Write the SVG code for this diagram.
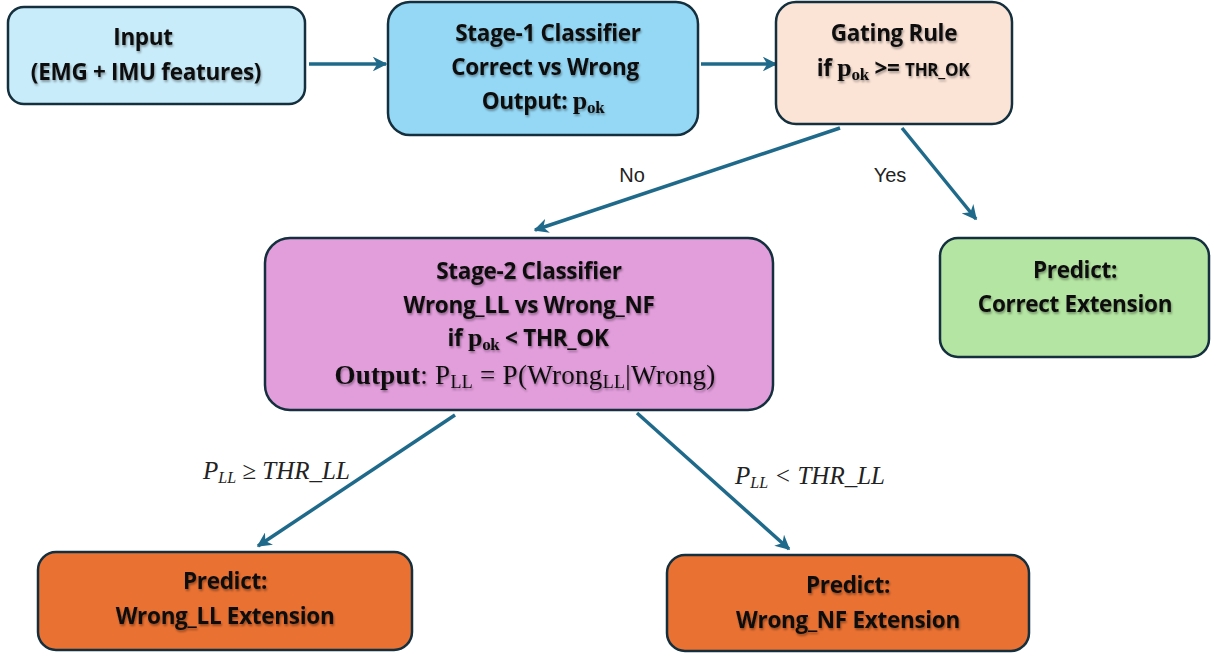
<svg xmlns="http://www.w3.org/2000/svg" width="1211" height="654" viewBox="0 0 1211 654">
<defs>
<marker id="ah" viewBox="0 0 10 10" refX="9" refY="5" markerWidth="4.2" markerHeight="4.2" orient="auto" markerUnits="strokeWidth">
<path d="M0,0 L10,5 L0,10 L3,5 z" fill="#1f6a8a"/>
</marker>
<filter id="sh" x="-10%" y="-30%" width="120%" height="160%">
<feGaussianBlur in="SourceAlpha" stdDeviation="1.2"/>
<feOffset dx="1" dy="1.5" result="b"/>
<feComponentTransfer><feFuncA type="linear" slope="0.35"/></feComponentTransfer>
<feMerge><feMergeNode/><feMergeNode in="SourceGraphic"/></feMerge>
</filter>
</defs>
<style>
.box{stroke:#142f3d;stroke-width:2.5}
.t{font-family:"Open Sans","Liberation Sans",sans-serif;font-weight:bold;font-size:22.5px;fill:#111;text-anchor:middle;letter-spacing:-0.3px}
.m{font-family:"Liberation Serif","DejaVu Serif",serif;font-weight:bold}
.mr{font-family:"Liberation Serif","DejaVu Serif",serif;font-weight:normal;font-size:27px;letter-spacing:0.3px}
.c{stroke:#1f6a8a;stroke-width:3.5;fill:none;marker-end:url(#ah)}
.lbl{font-family:"Liberation Sans",sans-serif;font-size:20px;fill:#222;text-anchor:middle}
.il{font-family:"Liberation Serif","DejaVu Serif",serif;font-style:italic;font-size:25px;fill:#222}
</style>
<g id="connectors">
<line class="c" x1="309" y1="64" x2="386" y2="64"/>
<line class="c" x1="701" y1="64" x2="776" y2="64"/>
<line class="c" x1="840" y1="128" x2="535" y2="230"/>
<line class="c" x1="902" y1="128" x2="976" y2="219"/>
<line class="c" x1="455" y1="415" x2="258" y2="546"/>
<line class="c" x1="637" y1="413" x2="789" y2="549"/>
<text class="lbl" x="632" y="182">No</text>
<text class="lbl" x="890" y="182">Yes</text>
<text class="il" x="203" y="479">P<tspan font-size="16" dy="4">LL</tspan><tspan dy="-4"> ≥ THR_LL</tspan></text>
<text class="il" x="735" y="484">P<tspan font-size="16" dy="4">LL</tspan><tspan dy="-4"> &lt;  THR_LL</tspan></text>
</g>
<g id="input">
<rect class="box" x="8" y="7" width="297" height="97" rx="16" fill="#c9ecfa"/>
<g filter="url(#sh)">
<text class="t" x="143" y="45">Input</text>
<text class="t" x="146" y="80">(EMG + IMU features)</text>
</g>
</g>
<g id="stage1">
<rect class="box" x="388" y="2" width="310" height="133" rx="22" fill="#95d8f5"/>
<g filter="url(#sh)">
<text class="t" x="548" y="41">Stage-1 Classifier</text>
<text class="t" x="545" y="75">Correct vs Wrong</text>
<text class="t" x="543" y="109">Output: <tspan class="m" font-size="26">p<tspan font-size="17" dy="4">ok</tspan></tspan></text>
</g>
</g>
<g id="gating">
<rect class="box" x="776" y="2" width="236" height="122" rx="20" fill="#fbe3d6"/>
<g filter="url(#sh)">
<text class="t" x="894" y="41">Gating Rule</text>
<text class="t" x="893" y="76">if <tspan class="m" font-size="26">p<tspan font-size="17" dy="4">ok</tspan></tspan><tspan dy="-4"> &gt;= </tspan><tspan font-size="17">THR_OK</tspan></text>
</g>
</g>
<g id="stage2">
<rect class="box" x="265" y="238" width="508" height="172" rx="25" fill="#e29ddb"/>
<g filter="url(#sh)">
<text class="t" x="529" y="279">Stage-2 Classifier</text>
<text class="t" x="529" y="313">Wrong_LL vs Wrong_NF</text>
<text class="t" x="528" y="346">if <tspan class="m" font-size="26">p<tspan font-size="17" dy="4">ok</tspan></tspan><tspan dy="-4"> &lt; THR_OK</tspan></text>
<text class="t" x="525" y="384"><tspan class="m" font-size="27" letter-spacing="0.3">Output</tspan><tspan class="mr">:  P<tspan font-size="18" dy="4">LL</tspan><tspan dy="-4">  =  P(Wrong</tspan><tspan font-size="18" dy="4">LL</tspan><tspan dy="-4">|Wrong)</tspan></tspan></text>
</g>
</g>
<g id="correct">
<rect class="box" x="940" y="238" width="269" height="119" rx="18" fill="#b4e5a2"/>
<g filter="url(#sh)">
<text class="t" x="1075" y="278">Predict:</text>
<text class="t" x="1075" y="312">Correct Extension</text>
</g>
</g>
<g id="wrongll">
<rect class="box" x="38" y="552" width="374" height="98" rx="18" fill="#e97132"/>
<g filter="url(#sh)">
<text class="t" x="225" y="589">Predict:</text>
<text class="t" x="225" y="624">Wrong_LL Extension</text>
</g>
</g>
<g id="wrongnf">
<rect class="box" x="667" y="555" width="362" height="96" rx="18" fill="#e97132"/>
<g filter="url(#sh)">
<text class="t" x="848" y="593">Predict:</text>
<text class="t" x="848" y="628">Wrong_NF Extension</text>
</g>
</g>
</svg>
